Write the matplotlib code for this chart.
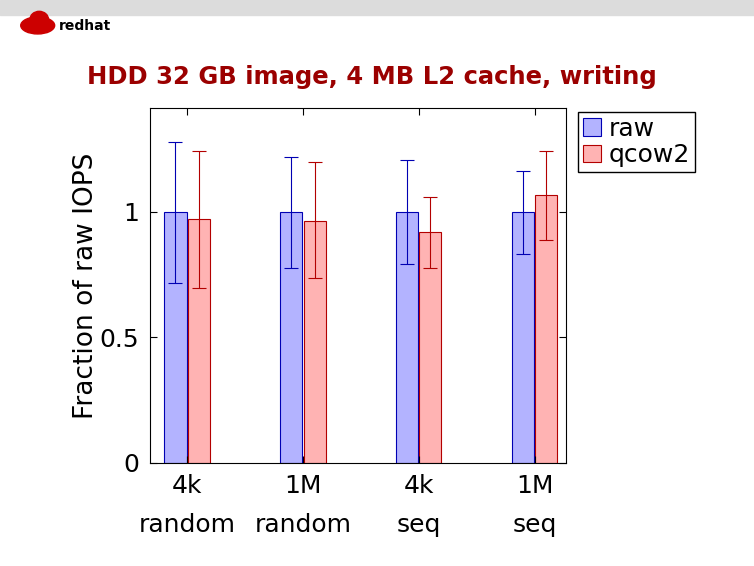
import numpy as np
import matplotlib
matplotlib.use('Agg')
from matplotlib import pyplot as plt
from matplotlib.patches import Rectangle, Ellipse

categories = ['4k\nrandom', '1M\nrandom', '4k\nseq', '1M\nseq']
raw_vals = [1.0, 1.0, 1.0, 1.0]
raw_lo = [0.717, 0.777, 0.793, 0.833]
raw_hi = [1.28, 1.22, 1.207, 1.163]
qcow_vals = [0.972, 0.964, 0.92, 1.068]
qcow_lo = [0.697, 0.737, 0.777, 0.888]
qcow_hi = [1.243, 1.199, 1.06, 1.243]

plt.rcParams['font.family'] = ['DejaVu Sans']

fig = plt.figure(figsize=(7.54, 5.66), dpi=100)
# gray slide bar at top
fig.patches.append(Rectangle((0, 1 - 15/566), 1, 15/566, transform=fig.transFigure,
                             color='#dcdcdc', zorder=0))
# logo
fig.patches.append(Ellipse((0.05, 0.955), 0.045, 0.03, transform=fig.transFigure,
                           color='#cc0000', zorder=1))
fig.patches.append(Ellipse((0.052, 0.965), 0.025, 0.03, transform=fig.transFigure,
                           color='#cc0000', zorder=1))
fig.text(0.078, 0.947, 'redhat', fontsize=10, fontweight='bold', color='black')

fig.text(0.493, 0.864, 'HDD 32 GB image, 4 MB L2 cache, writing', ha='center', va='center',
         fontsize=17.5, fontweight='bold', color='#9b0000')

ax = fig.add_axes([150/754, 103/566, 416/754, 355/566])
x = np.arange(len(categories))
w = 0.19
raw_err = [np.array(raw_vals) - np.array(raw_lo), np.array(raw_hi) - np.array(raw_vals)]
qcow_err = [np.array(qcow_vals) - np.array(qcow_lo), np.array(qcow_hi) - np.array(qcow_vals)]
ax.bar(x - w/2 - 0.005, raw_vals, w, color='#b3b3ff', edgecolor='#0000b3', linewidth=0.8,
       yerr=raw_err, error_kw=dict(ecolor='#0000b3', elinewidth=0.8, capsize=5, capthick=0.8),
       label='raw')
ax.bar(x + w/2 + 0.005, qcow_vals, w, color='#ffb3b3', edgecolor='#b30000', linewidth=0.8,
       yerr=qcow_err, error_kw=dict(ecolor='#b30000', elinewidth=0.8, capsize=5, capthick=0.8),
       label='qcow2')
ax.set_xlim(-0.32, 3.27)
ax.set_ylim(0, 1.414)
ax.set_xticks(x)
ax.set_xticklabels(categories, fontsize=18, linespacing=1.8)
ax.set_yticks([0, 0.5, 1])
ax.set_yticklabels(['0', '0.5', '1'], fontsize=18)
ax.tick_params(direction='in', length=5, top=True, right=True, pad=8)
ax.set_ylabel('Fraction of raw IOPS', fontsize=19, labelpad=0)
ax.legend(loc='upper left', bbox_to_anchor=(1.03, 0.99), fontsize=18, fancybox=False,
          edgecolor='black', handlelength=0.7, handletextpad=0.3, borderaxespad=0,
          labelspacing=0.1, borderpad=0.2, framealpha=1)

fig.savefig('out.png', dpi=100)
